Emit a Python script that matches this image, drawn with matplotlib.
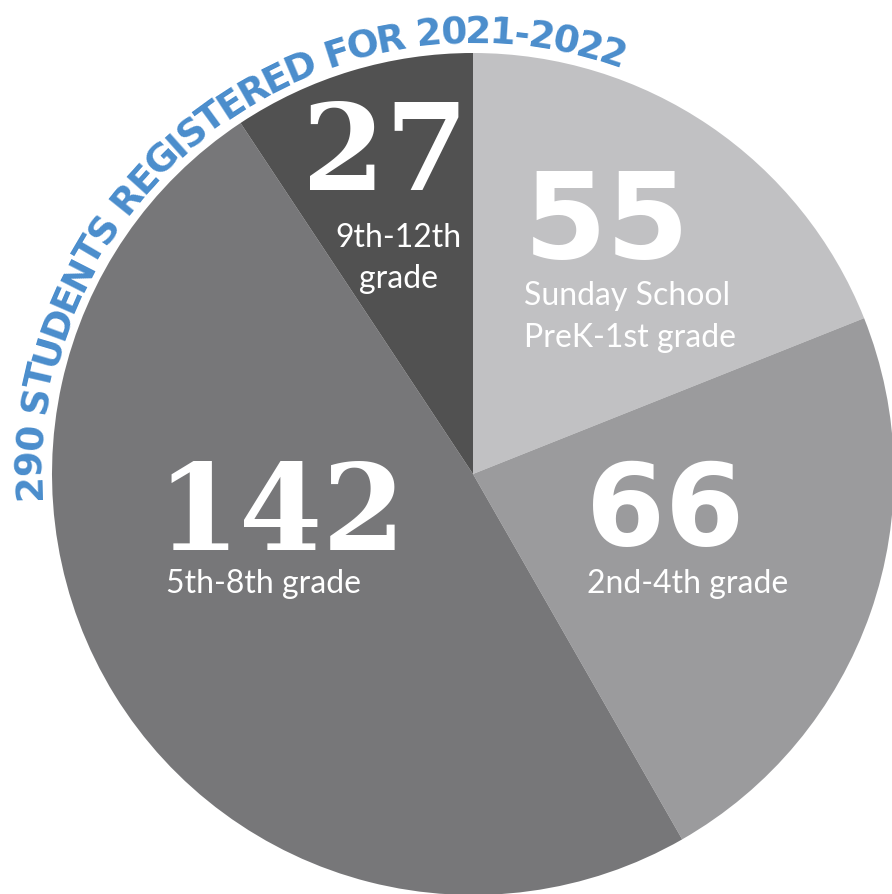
import numpy as np
import matplotlib
matplotlib.use("Agg")
import matplotlib.pyplot as plt
from matplotlib.font_manager import FontProperties, findfont
from matplotlib.ft2font import FT2Font

# data
counts = [55, 66, 142, 27]
groups = [["Sunday School", "PreK-1st grade"],
          ["2nd-4th grade"],
          ["5th-8th grade"],
          ["9th-12th", "grade"]]
colors = ["#c1c1c3", "#9b9b9d", "#777779", "#515151"]
title = "290 STUDENTS REGISTERED FOR 2021-2022"

W, H = 892, 895
cx, cy, R = 473, H - 475, 421

fig = plt.figure(figsize=(W / 100, H / 100), dpi=100)
ax = fig.add_axes([0, 0, 1, 1])
ax.pie(counts, colors=colors, startangle=90, counterclock=False,
       center=(cx, cy), radius=R, wedgeprops=dict(linewidth=0))
ax.set_xlim(0, W)
ax.set_ylim(0, H)
ax.set_aspect("equal")
ax.axis("off")

# big numbers: (x left, baseline y in image px, family, size)
num_style = {
    55: (524, 258, "DejaVu Sans", 86),
    66: (586, 545, "DejaVu Sans", 82),
    142: (156, 550, "DejaVu Serif", 86),
    27: (302, 190, "DejaVu Serif", 86),
}
# label lines: (x, first baseline, line step, ha)
lab_style = {
    55: (524, 305, 42, "left"),
    66: (587, 593, 42, "left"),
    142: (166, 593, 42, "left"),
    27: (398, 247, 41, "center"),
}

for n, lines in zip(counts, groups):
    x, yb, fam, sz = num_style[n]
    ax.text(x, H - yb, str(n), color="white", fontsize=sz, fontweight="bold",
            family=fam, ha="left", va="baseline")
    lx, ly, step, ha = lab_style[n]
    for i, line in enumerate(lines):
        ax.text(lx, H - (ly + i * step), line, color="white", fontsize=23,
                family="Lato", fontweight="normal", ha=ha, va="baseline")

# curved title along the rim
title_pt = 27
fp = FontProperties(family="DejaVu Sans", weight="bold", size=title_pt)
ft = FT2Font(findfont(fp))
ft.set_size(title_pt, 100)
adv = []
for ch in title:
    g = ft.load_char(ord(ch))
    adv.append(g.linearHoriAdvance / 65536)
adv = np.array(adv)
cum = np.concatenate([[0], np.cumsum(adv)[:-1]])

r_base = 432
th0, th1 = np.radians(183), np.radians(70)
k = (th0 - th1) * r_base / adv.sum()
for ch, c0, a in zip(title, cum, adv):
    if ch == " ":
        continue
    th = th0 - (c0 + a / 2) * k / r_base
    ax.text(cx + r_base * np.cos(th), cy + r_base * np.sin(th), ch,
            fontproperties=fp, color="#4a8dcc", ha="center", va="baseline",
            rotation=np.degrees(th) - 90, rotation_mode="anchor")

fig.savefig("out.png", dpi=100)
